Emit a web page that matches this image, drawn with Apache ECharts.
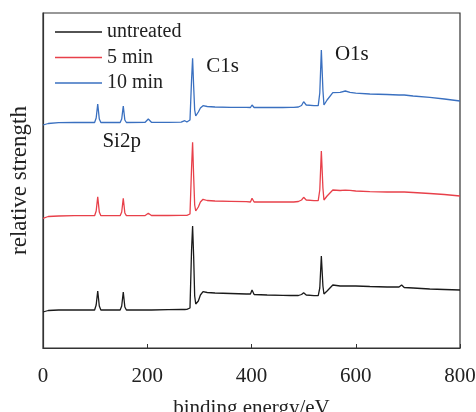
<!DOCTYPE html>
<html>
<head>
<meta charset="utf-8">
<script src="https://cdn.jsdelivr.net/npm/echarts@6/dist/echarts.min.js"></script>
<style>
  html, body { margin: 0; padding: 0; background: #fff; }
  #main { width: 476px; height: 412px; }
</style>
</head>
<body>
<div id="main"></div>
<script>
// binding energy (eV) grid shared by all three spectra
const energy = [0, 10, 30, 60, 90, 99, 102, 105, 108, 111, 140, 148, 151, 154, 157, 160, 196, 202, 208, 240,
  265, 272, 276, 279, 282, 285, 287, 289, 291, 293, 295, 298, 302, 307, 315, 330, 360, 390, 398, 401,
  405, 430, 460, 475, 478, 481, 490, 496, 500, 505, 520, 528, 531, 534, 537, 539, 545, 556, 570, 580,
  589, 600, 627, 660, 683, 688, 693, 710, 742, 770, 800];

// relative strength (stacked with offsets, arbitrary units)
const untreated = [36, 37.5, 38, 38, 38, 38, 43, 57, 42, 38, 38, 38, 42, 56, 41, 38, 38, 38, 38, 38.3,
  38.5, 38.5, 38.6, 38.7, 40, 98, 122, 92, 52, 44, 43, 47, 53, 56.3, 55.5, 55, 54.5, 54, 54, 58,
  53.5, 53, 52.7, 52.5, 52.5, 52.5, 52.5, 53.5, 55.3, 53, 52.3, 52.3, 60, 92, 62, 54, 57, 63, 62, 62,
  62, 62, 61.5, 61, 61, 63, 60.5, 60, 59, 58.5, 58];
const min5 = [129.7, 131.5, 132, 132.3, 132.3, 132.3, 137, 151.3, 136, 132.3, 132.3, 132.3, 136, 149.7, 135, 132.3, 132.5, 134.7, 132.5, 132.5,
  132.6, 132.6, 132.7, 132.7, 134, 180, 205.7, 172, 143, 137, 136.3, 141, 146, 148.7, 147.5, 147, 146.7, 146.3, 146, 149.7,
  146, 146, 146, 146.2, 147.3, 146, 146.5, 148, 150.7, 148, 147.3, 147.3, 158, 197, 160, 148, 152, 158, 157.5, 157.8,
  157.7, 157, 156.3, 156, 156, 156, 156, 155.5, 154.5, 153.5, 152];
const min10 = [223, 224.5, 225.3, 225.5, 225.5, 225.5, 230, 244, 229, 225.5, 225.5, 225.5, 229, 242, 228, 225.5, 225.7, 229, 225.7, 225.7,
  225.8, 227.3, 226, 226, 228, 268, 289.7, 262, 238, 232, 231.3, 236, 240, 242.3, 241.5, 241, 240.7, 240.7, 240.5, 243,
  240.5, 240.5, 240.5, 240.7, 242, 240.7, 241, 242.5, 246.3, 243, 242.3, 242.3, 255, 298, 258, 243, 248, 255.3, 255.7, 257,
  255.7, 254.8, 254, 253.5, 253, 253, 253, 252, 250.7, 249, 247];

const seriesNames = ['untreated', '5 min', '10 min'];
const xTicks = [0, 200, 400, 600, 800];

// peak labels: [text, energy, strength]
const peakLabels = [['C1s', 313, 282], ['O1s', 560, 294], ['Si2p', 114, 207]];

const serif = '"Liberation Serif", "DejaVu Serif", serif';
const colors = ['#1a1a1a', '#e8404a', '#3a70c0'];

const zip = ys => energy.map((e, i) => [e, ys[i]]);

const chart = echarts.init(document.getElementById('main'));
chart.setOption({
  animation: false,
  color: colors,
  grid: {
    left: 43, right: 16, top: 13, bottom: 64,
    outerBoundsMode: 'none',
    containLabel: false,
    show: true, borderColor: '#333', borderWidth: 1.2
  },
  legend: {
    orient: 'vertical',
    left: 50, top: 17,
    icon: 'rect',
    itemWidth: 47, itemHeight: 1.4, itemGap: 5.5,
    selectedMode: false,
    textStyle: { fontFamily: serif, fontSize: 20, lineHeight: 20, color: '#222' },
    data: seriesNames
  },
  xAxis: {
    type: 'value',
    min: 0, max: 800, interval: 200,
    name: 'binding energy/eV',
    nameLocation: 'middle',
    nameGap: 50,
    nameTextStyle: { fontFamily: serif, fontSize: 21, color: '#222' },
    axisLine: { lineStyle: { color: '#333', width: 1.2 } },
    axisTick: { inside: true, length: 4, lineStyle: { color: '#333' } },
    axisLabel: {
      fontFamily: serif, fontSize: 21, color: '#222', margin: 18,
      formatter: v => xTicks.includes(v) ? String(v) : ''
    },
    splitLine: { show: false }
  },
  yAxis: {
    type: 'value',
    min: 0, max: 335,
    name: 'relative strength',
    nameLocation: 'middle',
    nameGap: 12,
    nameTextStyle: { fontFamily: serif, fontSize: 23, color: '#222' },
    axisLine: { show: true, lineStyle: { color: '#333', width: 1.2 } },
    axisTick: { show: false },
    axisLabel: { show: false },
    splitLine: { show: false }
  },
  series: [
    { name: seriesNames[0], type: 'line', symbol: 'none', data: zip(untreated), lineStyle: { width: 1.3 } },
    { name: seriesNames[1], type: 'line', symbol: 'none', data: zip(min5), lineStyle: { width: 1.3 } },
    { name: seriesNames[2], type: 'line', symbol: 'none', data: zip(min10), lineStyle: { width: 1.3 } },
    {
      type: 'scatter',
      symbolSize: 0,
      silent: true,
      itemStyle: { opacity: 1 },
      data: peakLabels.map(p => ({ name: p[0], value: [p[1], p[2]] })),
      label: {
        show: true, position: 'right', distance: 0, opacity: 1,
        formatter: p => p.name,
        fontFamily: serif, fontSize: 21, color: '#1a1a1a'
      }
    }
  ]
});
</script>
</body>
</html>
